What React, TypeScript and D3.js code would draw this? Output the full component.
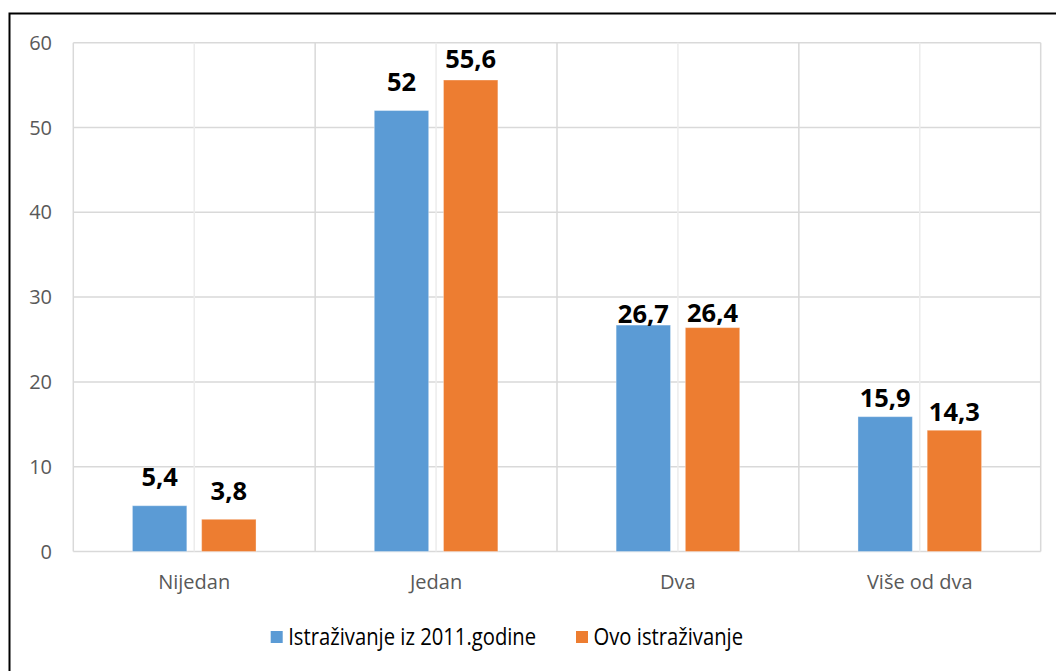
import React from "react";
import * as d3 from "d3";

const categories = ["Nijedan", "Jedan", "Dva", "Više od dva"];
const seriesNames = ["Istraživanje iz 2011.godine", "Ovo istraživanje"];
const series2011 = [5.4, 52, 26.7, 15.9];
const seriesNow = [3.8, 55.6, 26.4, 14.3];
const labels2011 = ["5,4", "52", "26,7", "15,9"];
const labelsNow = ["3,8", "55,6", "26,4", "14,3"];
const yTicks = [0, 10, 20, 30, 40, 50, 60];
const colors = ["#5b9bd5", "#ed7d31"];
// label gap above bar top (layout)
const gap2011 = [19.7, 19.7, 2.4, 10];
const gapNow = [19.3, 12.3, 5.6, 9.7];

const W = 1056;
const H = 671;
const plot = { left: 73.3, right: 1040.7, top: 42.7, bottom: 551.5 };
const FONT = "'Open Sans', sans-serif";

export default function App() {
  const values = [series2011, seriesNow];
  const labels = [labels2011, labelsNow];
  const gaps = [gap2011, gapNow];

  const x = d3.scaleBand<string>().domain(categories).range([plot.left, plot.right]).padding(0);
  const y = d3.scaleLinear().domain([0, 60]).range([plot.bottom, plot.top]);
  const bw = x.bandwidth();
  const groupW = 123.6;
  const sub = d3
    .scaleBand<number>()
    .domain([0, 1])
    .range([(bw - groupW) / 2, (bw + groupW) / 2])
    .paddingInner(0.214)
    .paddingOuter(0);

  const vLines: { x: number; major: boolean }[] = [];
  categories.forEach((c, i) => {
    const x0 = x(c)!;
    vLines.push({ x: x0, major: true });
    vLines.push({ x: x0 + bw / 2, major: false });
    if (i === categories.length - 1) vLines.push({ x: x0 + bw, major: true });
  });

  return (
    <svg
      width={W}
      height={H}
      style={{ position: "absolute", left: 0, top: 0, background: "#fff" }}
    >
      <rect x={0} y={0} width={W} height={H} fill="#fff" />
      {/* gridlines */}
      {yTicks.map((t) => (
        <line
          key={"h" + t}
          x1={plot.left}
          x2={plot.right}
          y1={y(t)}
          y2={y(t)}
          stroke="#d9d9d9"
          strokeWidth={1.5}
        />
      ))}
      {vLines.map((v, i) => (
        <line
          key={"v" + i}
          x1={v.x}
          x2={v.x}
          y1={plot.top}
          y2={plot.bottom}
          stroke={v.major ? "#d9d9d9" : "#ececec"}
          strokeWidth={1.5}
        />
      ))}
      {/* y tick labels */}
      {yTicks.map((t) => (
        <text
          key={"t" + t}
          x={52}
          y={y(t)}
          dy="0.35em"
          textAnchor="end"
          fontFamily={FONT}
          fontSize={20}
          fill="#595959"
        >
          {t}
        </text>
      ))}
      {/* bars */}
      {categories.map((c, ci) =>
        [0, 1].map((si) => {
          const v = values[si][ci];
          const bx = x(c)! + sub(si)!;
          const by = y(v);
          return (
            <g key={c + si}>
              <rect
                x={bx}
                y={by}
                width={sub.bandwidth()}
                height={y(0) - by}
                fill={colors[si]}
                stroke="#ffffff"
                strokeOpacity={0.35}
                strokeWidth={1}
              />
              <text
                x={bx + sub.bandwidth() / 2}
                y={by - gaps[si][ci]}
                textAnchor="middle"
                fontFamily={FONT}
                fontWeight="bold"
                fontSize={25.5}
                fill="#000"
              >
                {labels[si][ci]}
              </text>
            </g>
          );
        })
      )}
      {/* category labels */}
      {categories.map((c) => (
        <text
          key={"c" + c}
          x={x(c)! + bw / 2}
          y={589}
          textAnchor="middle"
          fontFamily={FONT}
          fontSize={20}
          fill="#595959"
        >
          {c}
        </text>
      ))}
      {/* legend */}
      {seriesNames.map((s, i) => {
        const lx = [270.7, 576][i];
        return (
          <g key={"l" + i}>
            <rect x={lx} y={631} width={12} height={12} fill={colors[i]} />
            <text
              transform={`translate(${lx + 17.5},637) scale(0.88,1)`}
              dy="0.35em"
              fontFamily={FONT}
              fontSize={23}
              fill="#000"
            >
              {s}
            </text>
          </g>
        );
      })}
      {/* outer border */}
      <rect x={9.5} y={13.5} width={1070} height={700} fill="none" stroke="#000" strokeWidth={2} />
    </svg>
  );
}
